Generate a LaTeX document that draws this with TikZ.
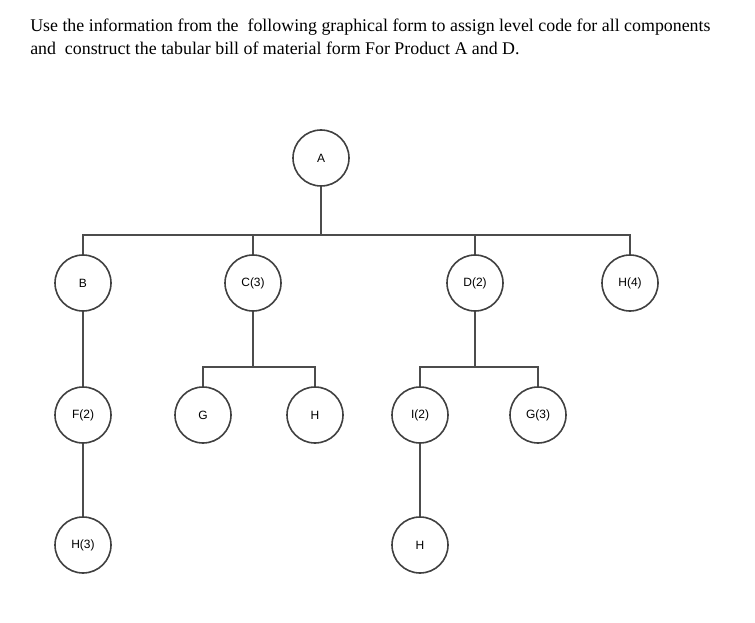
\documentclass[tikz,border=0pt]{standalone}
\usepackage{fontspec}
\setmainfont{Liberation Serif}
\newfontfamily\partfont{Liberation Sans}
\begin{document}
\begin{tikzpicture}[x=0.75pt,y=-0.75pt]
    \tikzset{part/.style={circle,draw=black!75,line width=1.2pt,minimum size=42pt,inner sep=0pt,font=\partfont\small},
      tree/.style={draw=black!70,line width=0.9pt}}
    \useasboundingbox (0,0) rectangle (755,623);
    %题目文字
    \node[anchor=west,inner sep=0pt,font=\fontsize{13.4}{15}\selectfont] (q1) at (30,27){Use the information from the \ following graphical form to assign level code for all components};
    \node[anchor=west,inner sep=0pt,font=\fontsize{13.4}{15}\selectfont] (q2) at (30,48){and \ construct the tabular bill of material form For Product A and D.};
    %零件
    \node[part] (a) at (321,158){A};
    \node[part] (b) at (83,283){B};
    \node[part] (c) at (253,283){C(3)};
    \node[part] (d) at (475,283){D(2)};
    \node[part] (h4) at (630,283){H(4)};
    \node[part] (f) at (83,415){F(2)};
    \node[part] (g) at (203,415){G};
    \node[part] (hc) at (315,415){H};
    \node[part] (i) at (420,415){I(2)};
    \node[part] (g3) at (538,415){G(3)};
    \node[part] (h3) at (83,545){H(3)};
    \node[part] (hi) at (420,545){H};
    %连接线
    \draw[tree](a.south)--(321,235);
    \draw[tree](b.north)|-(321,235)-|(h4.north);
    \draw[tree](c.north)--(253,235);
    \draw[tree](d.north)--(475,235);
    \draw[tree](c.south)--(253,367);
    \draw[tree](g.north)|-(253,367)-|(hc.north);
    \draw[tree](d.south)--(475,367);
    \draw[tree](i.north)|-(475,367)-|(g3.north);
    \draw[tree](b)--(f);
    \draw[tree](f)--(h3);
    \draw[tree](i)--(hi);
\end{tikzpicture}
\end{document}
